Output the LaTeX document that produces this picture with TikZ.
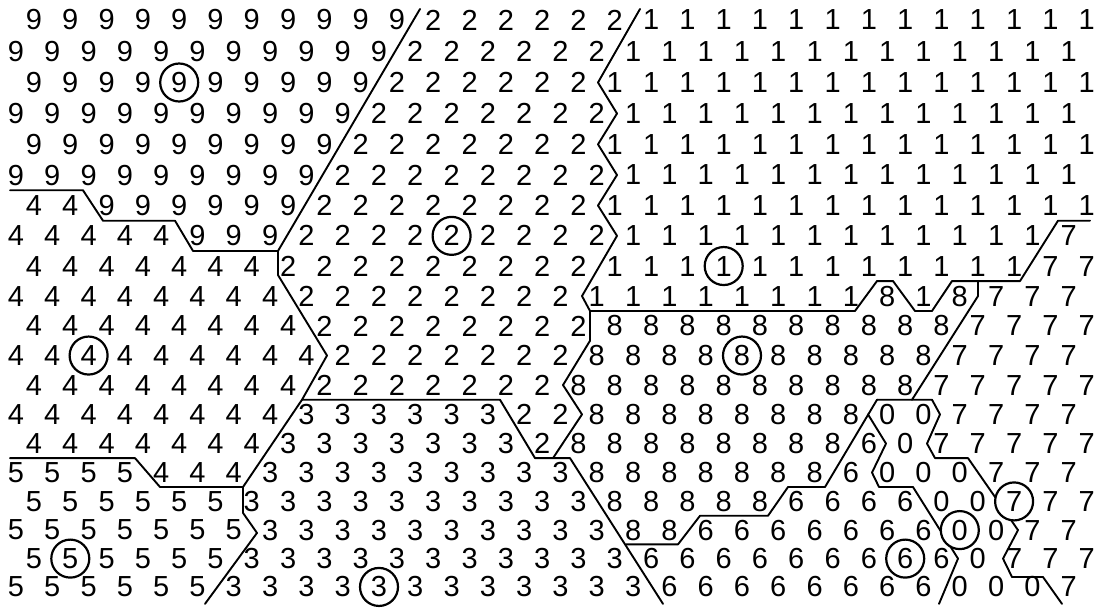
\documentclass[tikz,border=0pt]{standalone}
\usepackage{fontspec}
\newfontfamily\digfont{Liberation Sans}
\pgfmathdeclarefunction{Y}{1}{\pgfmathparse{-(20+31.42*(#1-1)-0.0832*(#1-1)*(#1-1))}}
\tikzset{
  bnd/.style={line width=1.9pt, line join=round, line cap=round},
  ring/.style={circle, draw, line width=2.2pt, fill=white, minimum size=38pt, inner sep=0pt},
  dig/.style={inner sep=0pt, font=\digfont\fontsize{29}{29}\selectfont}
}
\begin{document}
\begin{tikzpicture}[x=1pt,y=1pt]
\useasboundingbox (0,0) rectangle (1100,-612);
\fill[white] (0,0) rectangle (1100,-612);
% region boundaries
\draw[bnd] (420,{Y(0.65)}) -- (278,{Y(8.5)});
\draw[bnd] (10,{Y(6.5)}) -- (83,{Y(6.5)}) -- (103,{Y(7.5)}) -- (175,{Y(7.5)}) -- (193,{Y(8.5)}) -- (278,{Y(8.5)});
\draw[bnd] (278,{Y(8.5)}) -- (278,{Y(9.3)}) -- (327,{Y(12)}) -- (302,{Y(13.5)});
\draw[bnd] (302,{Y(13.5)}) -- (500,{Y(13.5)}) -- (535,{Y(15.5)}) -- (570,{Y(15.5)}) -- (663,{Y(20.6)});
\draw[bnd] (302,{Y(13.5)}) -- (243,{Y(16.5)}) -- (243,{Y(17.4)}) -- (257,{Y(18.1)}) -- (205,{Y(20.6)});
\draw[bnd] (10,{Y(15.5)}) -- (135,{Y(15.5)}) -- (160,{Y(16.5)}) -- (243,{Y(16.5)});
\draw[bnd] (640,{Y(0.65)}) -- (598,{Y(3)}) -- (617,{Y(4)}) -- (598,{Y(5)}) -- (617,{Y(6)}) -- (598,{Y(7)}) -- (617,{Y(8)}) -- (582,{Y(10)}) -- (590,{Y(10.5)}) -- (855,{Y(10.5)}) -- (877,{Y(9.5)}) -- (893,{Y(9.5)}) -- (915,{Y(10.5)}) -- (932,{Y(10.5)}) -- (952,{Y(9.5)}) -- (1020,{Y(9.5)}) -- (1058,{Y(7.5)}) -- (1090,{Y(7.5)});
\draw[bnd] (590,{Y(10.5)}) -- (590,{Y(11.5)}) -- (563,{Y(13)}) -- (582,{Y(14)}) -- (553,{Y(15.5)});
\draw[bnd] (978,{Y(9.5)}) -- (978,{Y(10)}) -- (912,{Y(13.5)});
\draw[bnd] (877,{Y(13.5)}) -- (932,{Y(13.5)}) -- (940,{Y(14)}) -- (927,{Y(15)}) -- (935,{Y(15.5)}) -- (968,{Y(15.5)}) -- (1018,{Y(18)}) -- (1003,{Y(19)}) -- (1012,{Y(19.65)}) -- (1043,{Y(19.65)}) -- (1062,{Y(20.6)});
\draw[bnd] (877,{Y(13.5)}) -- (825,{Y(16.5)}) -- (788,{Y(16.5)}) -- (768,{Y(17.5)}) -- (700,{Y(17.5)}) -- (678,{Y(18.5)}) -- (626,{Y(18.5)});
\draw[bnd] (868,{Y(14)}) -- (886,{Y(15)}) -- (872,{Y(16)}) -- (879,{Y(16.5)}) -- (913,{Y(16.5)}) -- (958,{Y(19)}) -- (939,{Y(20.6)});
% circled centres
\node[ring] (c9) at (179.2,{Y(3)}) {};
\node[ring] (c2) at (451.6,{Y(8)}) {};
\node[ring] (c1) at (723.7,{Y(9)}) {};
\node[ring] (c4) at (88.6,{Y(12)}) {};
\node[ring] (c8) at (742,{Y(12)}) {};
\node[ring] (c7) at (1014.1,{Y(17)}) {};
\node[ring] (c0) at (959.8,{Y(18)}) {};
\node[ring] (c6) at (905.2,{Y(19)}) {};
\node[ring] (c5) at (70.3,{Y(19)}) {};
\node[ring] (c3) at (379,{Y(20)}) {};
% digits
\foreach \r/\row in {
1/{9,9,9,9,9,9,9,9,9,9,9,2,2,2,2,2,2,1,1,1,1,1,1,1,1,1,1,1,1,1},
2/{9,9,9,9,9,9,9,9,9,9,9,2,2,2,2,2,2,1,1,1,1,1,1,1,1,1,1,1,1,1},
3/{9,9,9,9,9,9,9,9,9,9,2,2,2,2,2,2,1,1,1,1,1,1,1,1,1,1,1,1,1,1},
4/{9,9,9,9,9,9,9,9,9,9,2,2,2,2,2,2,2,1,1,1,1,1,1,1,1,1,1,1,1,1},
5/{9,9,9,9,9,9,9,9,9,2,2,2,2,2,2,2,1,1,1,1,1,1,1,1,1,1,1,1,1,1},
6/{9,9,9,9,9,9,9,9,9,2,2,2,2,2,2,2,2,1,1,1,1,1,1,1,1,1,1,1,1,1},
7/{4,4,9,9,9,9,9,9,2,2,2,2,2,2,2,2,1,1,1,1,1,1,1,1,1,1,1,1,1,1},
8/{4,4,4,4,4,9,9,9,2,2,2,2,2,2,2,2,2,1,1,1,1,1,1,1,1,1,1,1,1,7},
9/{4,4,4,4,4,4,4,2,2,2,2,2,2,2,2,2,1,1,1,1,1,1,1,1,1,1,1,1,7,7},
10/{4,4,4,4,4,4,4,4,2,2,2,2,2,2,2,2,1,1,1,1,1,1,1,1,8,1,8,7,7,7},
11/{4,4,4,4,4,4,4,4,2,2,2,2,2,2,2,2,8,8,8,8,8,8,8,8,8,8,7,7,7,7},
12/{4,4,4,4,4,4,4,4,4,2,2,2,2,2,2,2,8,8,8,8,8,8,8,8,8,8,7,7,7,7},
13/{4,4,4,4,4,4,4,4,2,2,2,2,2,2,2,8,8,8,8,8,8,8,8,8,8,7,7,7,7,7},
14/{4,4,4,4,4,4,4,4,3,3,3,3,3,3,2,2,8,8,8,8,8,8,8,8,0,0,7,7,7,7},
15/{4,4,4,4,4,4,4,3,3,3,3,3,3,3,2,8,8,8,8,8,8,8,8,6,0,7,7,7,7,7},
16/{5,5,5,5,4,4,4,3,3,3,3,3,3,3,3,3,8,8,8,8,8,8,8,6,0,0,0,7,7,7},
17/{5,5,5,5,5,5,3,3,3,3,3,3,3,3,3,3,8,8,8,8,8,6,6,6,6,0,0,7,7,7},
18/{5,5,5,5,5,5,5,3,3,3,3,3,3,3,3,3,3,8,8,6,6,6,6,6,6,6,0,0,7,7},
19/{5,5,5,5,5,5,3,3,3,3,3,3,3,3,3,3,3,6,6,6,6,6,6,6,6,6,0,7,7,7},
20/{5,5,5,5,5,5,3,3,3,3,3,3,3,3,3,3,3,3,6,6,6,6,6,6,6,6,0,0,0,7}}{
  \pgfmathsetmacro\xo{16+18*mod(\r,2)}
  \foreach \d [count=\k from 0] in \row {
    \node[dig] (d-\r-\k) at ({\xo+36.3*\k},{Y(\r)}) {\d};
  }
}
\end{tikzpicture}
\end{document}
